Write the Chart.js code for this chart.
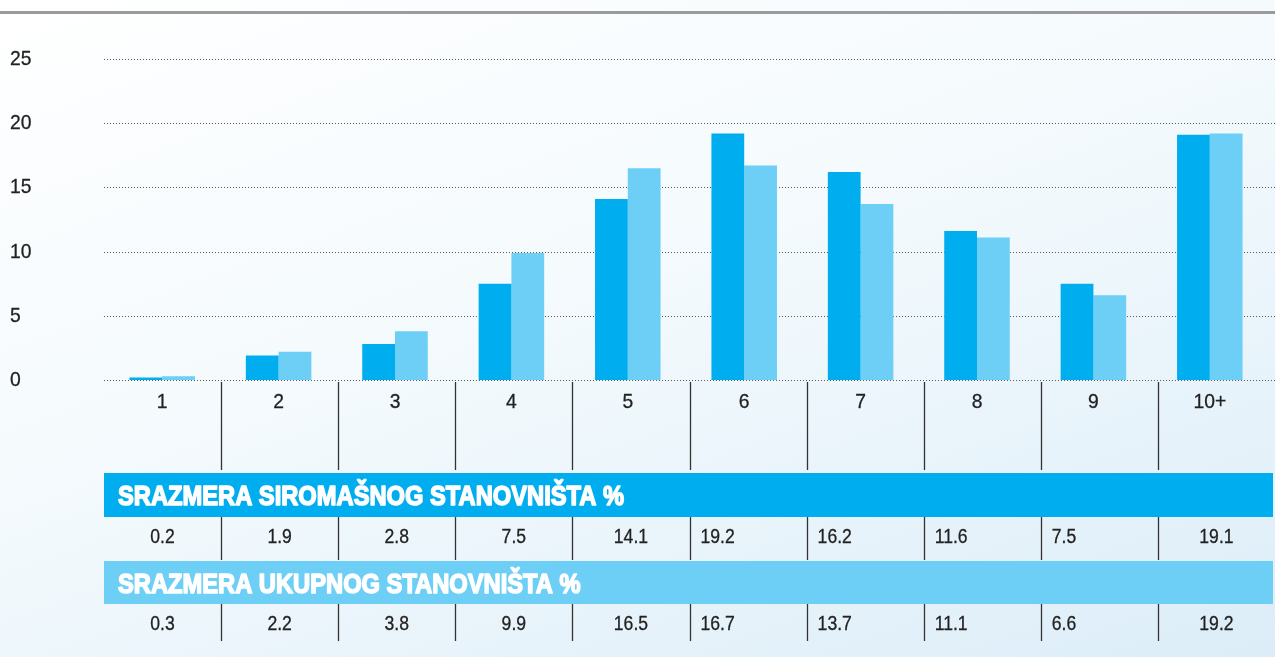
<!DOCTYPE html>
<html>
<head>
<meta charset="utf-8">
<script src="https://cdn.jsdelivr.net/npm/chart.js@4.4.0/dist/chart.umd.min.js"></script>
<style>
  html, body { margin: 0; padding: 0; }
  body {
    width: 1275px; height: 657px; overflow: hidden;
    background: linear-gradient(160deg, #ffffff 0%, #f4fafd 45%, #dcedf8 100%);
  }
  #wrap { position: relative; width: 1275px; height: 657px; }
</style>
</head>
<body>
<div id="wrap"><canvas id="chart" width="1275" height="657"></canvas></div>
<script>
// podaci
const categories = ['1', '2', '3', '4', '5', '6', '7', '8', '9', '10+'];
const poorShare = [0.2, 1.9, 2.8, 7.5, 14.1, 19.2, 16.2, 11.6, 7.5, 19.1];
const totalShare = [0.3, 2.2, 3.8, 9.9, 16.5, 16.7, 13.7, 11.1, 6.6, 19.2];
const yTicks = [0, 5, 10, 15, 20, 25];
const poorTitle = 'SRAZMERA SIROMAŠNOG STANOVNIŠTA %';
const totalTitle = 'SRAZMERA UKUPNOG STANOVNIŠTA %';

const darkBlue = '#00aeef';
const lightBlue = '#6dcff6';
const FONT = "'Liberation Sans', Arial, sans-serif";

// uzak tekst (skaliran po x)
function narrowText(ctx, txt, x, y, align, sx, strokeW) {
    ctx.save();
    ctx.translate(x, y);
    ctx.scale(sx, 1);
    ctx.textAlign = align;
    ctx.textBaseline = 'alphabetic';
    ctx.fillText(txt, 0, 0);
    if (strokeW) {
        ctx.strokeStyle = ctx.fillStyle;
        ctx.lineWidth = strokeW;
        ctx.lineJoin = 'round';
        ctx.strokeText(txt, 0, 0);
    }
    ctx.restore();
}

const tablePlugin = {
    id: 'tablePlugin',
    beforeDraw(chart) {
        const ctx = chart.ctx;
        ctx.save();
        ctx.fillStyle = '#9b9b9b';
        ctx.fillRect(0, 11, chart.width, 3);
        ctx.restore();
    },
    beforeDatasetsDraw(chart) {
        // isprekidane linije mreze i oznake y ose
        const ctx = chart.ctx;
        const y = chart.scales.y;
        const left = chart.chartArea.left;
        ctx.save();
        ctx.strokeStyle = '#5a5a5a';
        ctx.lineWidth = 1;
        ctx.setLineDash([1, 2]);
        yTicks.forEach(v => {
            const py = Math.round(y.getPixelForValue(v)) + 0.5;
            ctx.beginPath();
            ctx.moveTo(left, py);
            ctx.lineTo(chart.width, py);
            ctx.stroke();
        });
        ctx.setLineDash([]);
        ctx.fillStyle = '#222';
        ctx.font = '21px ' + FONT;
        yTicks.forEach(v => {
            narrowText(ctx, String(v), 10, y.getPixelForValue(v) + 6, 'left', 0.92, 0.3);
        });
        ctx.restore();
    },
    afterDraw(chart) {
        const ctx = chart.ctx;
        const x = chart.scales.x;
        const area = chart.chartArea;

        // oznake kategorija
        ctx.save();
        ctx.fillStyle = '#222';
        ctx.font = '21px ' + FONT;
        categories.forEach((c, i) => {
            narrowText(ctx, c, x.getPixelForValue(i), 408, 'center', 0.92, 0.3);
        });

        // kolone tabele
        const colW = (chart.width - area.left) / categories.length;
        const colLeft = i => area.left + i * colW;
        ctx.strokeStyle = '#333';
        ctx.lineWidth = 1.3;
        function seps(y1, y2) {
            for (let i = 1; i < categories.length; i++) {
                const b = Math.round(colLeft(i)) + 0.5;
                ctx.beginPath();
                ctx.moveTo(b, y1);
                ctx.lineTo(b, y2);
                ctx.stroke();
            }
        }
        seps(382, 470);
        seps(517, 560);
        seps(604, 641);

        // trake sa naslovima
        const bandLeft = area.left;
        const bandW = chart.width - 2 - bandLeft;
        ctx.fillStyle = darkBlue;
        ctx.fillRect(bandLeft, 473, bandW, 44);
        ctx.fillStyle = lightBlue;
        ctx.fillRect(bandLeft, 561, bandW, 43);

        ctx.fillStyle = '#ffffff';
        ctx.font = 'bold 28px ' + FONT;
        const sx = 506 / ctx.measureText(poorTitle).width;
        narrowText(ctx, poorTitle, 118, 505, 'left', sx, 1.6);
        narrowText(ctx, totalTitle, 118, 593, 'left', sx, 1.6);

        // vrednosti
        ctx.fillStyle = '#222';
        ctx.font = '20px ' + FONT;
        function row(vals, yb) {
            vals.forEach((v, i) => {
                const txt = v.toFixed(1);
                if (i >= 5 && i <= 8) {
                    narrowText(ctx, txt, colLeft(i) + 11, yb, 'left', 0.88, 0.3);
                } else {
                    narrowText(ctx, txt, colLeft(i) + colW / 2, yb, 'center', 0.88, 0.3);
                }
            });
        }
        row(poorShare, 543);
        row(totalShare, 630);
        ctx.restore();
    }
};

const ctx = document.getElementById('chart').getContext('2d');
new Chart(ctx, {
    type: 'bar',
    data: {
        labels: categories,
        datasets: [
            {
                label: poorTitle,
                data: poorShare,
                backgroundColor: darkBlue,
                borderWidth: 0,
                barPercentage: 1.0,
                categoryPercentage: 0.563
            },
            {
                label: totalTitle,
                data: totalShare,
                backgroundColor: lightBlue,
                borderWidth: 0,
                barPercentage: 1.0,
                categoryPercentage: 0.563
            }
        ]
    },
    options: {
        responsive: false,
        animation: false,
        events: [],
        layout: {
            padding: { top: 59, left: 10, right: 7, bottom: 0 }
        },
        plugins: {
            legend: { display: false },
            tooltip: { enabled: false }
        },
        scales: {
            x: {
                grid: { display: false, drawTicks: false },
                border: { display: false },
                ticks: { display: false },
                afterFit(scale) { scale.height = 657 - 380; }
            },
            y: {
                min: 0,
                max: 25,
                afterBuildTicks(scale) {
                    scale.ticks = yTicks.map(v => ({ value: v }));
                },
                grid: { display: false, drawTicks: false },
                border: { display: false },
                ticks: { display: false },
                afterFit(scale) { scale.width = 94; }
            }
        }
    },
    plugins: [tablePlugin]
});
</script>
</body>
</html>
